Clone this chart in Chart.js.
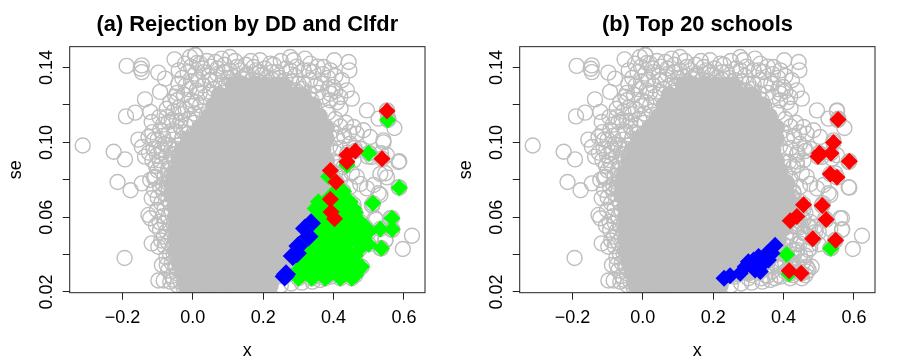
<!DOCTYPE html>
<html>
<head>
<meta charset="utf-8">
<style>
  body { margin: 0; background: #fff; width: 900px; height: 363px; overflow: hidden; }
  canvas { position: absolute; top: 0; }
</style>
<script src="https://cdn.jsdelivr.net/npm/chart.js@4/dist/chart.umd.min.js"></script>
</head>
<body>
<canvas id="left" width="450" height="363" style="left:0"></canvas>
<canvas id="right" width="450" height="363" style="left:450px"></canvas>
<script>
const xTicks = [-0.2, 0, 0.2, 0.4, 0.6];
const seTicks = [0.02, 0.04, 0.06, 0.08, 0.1, 0.12, 0.14];
const seLabels = [0.02, 0.06, 0.1, 0.14];

// open circles that can be told apart at the edge of the cloud, [x, se]
const rings = [
  [-0.313,0.0983],[-0.225,0.095],[-0.193,0.0909],[-0.214,0.0788],[-0.177,0.0744],[-0.194,0.0382],
  [-0.188,0.1409],[-0.145,0.1412],[-0.145,0.1376],[-0.148,0.1394],[-0.098,0.1373],[-0.079,0.1341],
  [-0.052,0.1444],[-0.022,0.1421],[0.007,0.1467],[-0.008,0.1457],[-0.041,0.1314],[-0.136,0.123],
  [-0.093,0.127],[-0.19,0.1139],[-0.164,0.1159],[-0.121,0.1163],[-0.117,0.1109],[-0.064,0.1216],
  [-0.074,0.118],[-0.045,0.1225],[-0.069,0.1109],[-0.093,0.1065],[-0.155,0.1015],[-0.145,0.0975],
  [-0.126,0.1029],[-0.112,0.0966],[-0.136,0.0924],[-0.102,0.0931],
  [-0.145,0.0781],[-0.121,0.0799],[-0.117,0.0701],[-0.121,0.0594],[-0.126,0.0612],[-0.102,0.0638],
  [-0.117,0.046],[-0.098,0.0442],[-0.083,0.0496],[-0.088,0.0344],[-0.098,0.0261],[-0.083,0.0261],
  [-0.064,0.0255],[-0.074,0.0344],[-0.079,0.0567],[-0.093,0.0532],[-0.064,0.0674],[-0.083,0.0728],
  [-0.069,0.0781],[-0.107,0.0817],[-0.093,0.0763],[-0.055,0.0407],[-0.045,0.03],[-0.045,0.0237],
  [-0.027,0.0229],
  [-0.06,0.112],[-0.03,0.115],[-0.05,0.106],[-0.02,0.109],[-0.08,0.099],[-0.06,0.096],[-0.03,0.102],
  [-0.09,0.088],[-0.07,0.086],[-0.1,0.085],[-0.11,0.081],[-0.08,0.082],
  [0.402,0.1439],[0.443,0.143],[0.445,0.1385],[0.391,0.1385],[0.372,0.1403],[0.424,0.1332],
  [0.452,0.1234],[0.495,0.1171],[0.552,0.1171],[0.528,0.1127],[0.573,0.1077],[0.556,0.1127],
  [0.504,0.1029],[0.485,0.1065],[0.457,0.1082],[0.419,0.1243],[0.391,0.1261],[0.438,0.1278],
  [0.4,0.1296],[0.466,0.1047],[0.447,0.0993],[0.476,0.0966],[0.585,0.0895],[0.552,0.0931],
  [0.542,0.1011],[0.509,0.0922],[0.457,0.0904],[0.428,0.0868],
  [0.585,0.076],[0.476,0.0778],[0.514,0.0772],[0.528,0.0728],[0.495,0.0754],[0.547,0.0835],
  [0.561,0.0594],[0.566,0.0532],[0.623,0.0501],[0.597,0.043],[0.533,0.0719],[0.485,0.0487],
  [0.476,0.0434],[0.457,0.0585],[0.476,0.0549],[0.438,0.0425],[0.471,0.0318],[0.452,0.03],
  [0.41,0.0318],[0.424,0.0362],[0.391,0.0282],[0.362,0.0264],[0.547,0.0478],[0.533,0.0434],
  [0.509,0.0665],[0.518,0.0594],[0.419,0.0585],[0.457,0.0514],[0.433,0.0656],[0.428,0.0728],
  [0.447,0.0763],[0.466,0.0817],[0.452,0.0835],
  [0.007,0.1466],[0.021,0.1421],[0.082,0.1448],[0.106,0.1457],[0.064,0.143],[0.125,0.1403],
  [0.191,0.1439],[0.173,0.1403],[0.22,0.1421],[0.277,0.1457],[0.286,0.1439],[0.319,0.1448],
  [0.334,0.1421],[0.277,0.1385],[0.315,0.1385],[0.343,0.1376],[0.239,0.1376],[0.007,0.1368],
  [0.03,0.1376],[0.049,0.1332],[0.087,0.1376],[0.116,0.135],[0.154,0.1368],[0.196,0.1359],
  [0.263,0.1332],[0.3,0.1314],[0.334,0.1332],[0.011,0.1278],[0.049,0.127],[-0.003,0.1225],
  [0.021,0.1198],[0.315,0.1243],[0.286,0.1278],[0.338,0.1225],[0.267,0.1225]
];

// rings packed between the solid part and the loose edge, left side
const ringsLeft = [
  [-0.115,0.0905],[-0.105,0.0875],[-0.095,0.0905],[-0.088,0.0945],[-0.075,0.0925],[-0.065,0.0895],[-0.058,0.0935],
  [-0.045,0.0965],[-0.05,0.0905],[-0.04,0.0925],[-0.085,0.0775],[-0.075,0.0755],[-0.065,0.079],[-0.055,0.0835],
  [-0.045,0.0875],[-0.06,0.0735],[-0.05,0.0765],[-0.11,0.0745],[-0.1,0.0705],[-0.09,0.0675],[-0.08,0.0645],
  [-0.07,0.0695],[-0.06,0.0635],[-0.07,0.0605],[-0.085,0.0605],[-0.095,0.0575],[-0.105,0.0555],[-0.065,0.0555],
  [-0.075,0.0525],[-0.06,0.0495],[-0.07,0.0465],[-0.08,0.0445],[-0.09,0.0475],[-0.065,0.0405],[-0.075,0.0385],
  [-0.06,0.0355],[-0.07,0.0315],[-0.06,0.0285],[-0.05,0.0335],[-0.055,0.0265],[-0.035,0.0255],[-0.02,0.0245],
  [0,0.0235],[0.03,0.024],[0.06,0.0235],
  [-0.095,0.1135],[-0.085,0.1095],[-0.075,0.1135],[-0.1,0.1015],[-0.085,0.1035],[-0.07,0.0985],[-0.115,0.1055],
  [-0.125,0.0945],[-0.11,0.1015],[-0.09,0.0965],[-0.05,0.1245],[-0.035,0.1115],[-0.015,0.1045],[0.005,0.1155]
];

// same, along the top of the cloud
const ringsTop = [
  [-0.04,0.1385],[-0.03,0.1345],[-0.015,0.1375],[-0.005,0.1405],[0.012,0.1425],[0.028,0.1395],[0.04,0.1435],
  [0.052,0.1405],[0.07,0.1395],[0.09,0.1415],[0.105,0.1385],[0.12,0.1435],[0.135,0.1385],[0.15,0.1415],
  [0.165,0.1435],[0.18,0.1385],[0.205,0.1395],[0.23,0.1415],[0.25,0.1435],[0.265,0.1395],[0.295,0.1405],
  [0.33,0.1385],[0.355,0.1405],[0.37,0.1365],[0.385,0.1345],[0.405,0.1355],
  [-0.02,0.1305],[-0.005,0.1325],[0.015,0.1335],[0.03,0.1305],[0.045,0.1355],[0.065,0.1335],[0.08,0.1305],
  [0.1,0.1345],[0.125,0.1325],[0.14,0.1345],[0.17,0.1335],[0.185,0.1325],[0.21,0.1345],[0.225,0.1335],
  [0.245,0.1345],[0.28,0.1325],[0.315,0.1315],[0.35,0.1305],[0.365,0.1315],[0.385,0.1285],[0.405,0.1275],
  [-0.045,0.1265],[-0.025,0.1255],[-0.01,0.1285],[0.02,0.1265],[0.035,0.1245],[0.06,0.1285],[0.075,0.1255],
  [0.295,0.1275],[0.31,0.1285],[0.33,0.1265],[0.355,0.1265],[0.37,0.1245],[0.39,0.1225],[0.41,0.1215],[0.42,0.118],
  [-0.055,0.1165],[-0.04,0.1185],[-0.02,0.1175],[-0.005,0.1195],[0.01,0.1215],[0.025,0.1165],[0.04,0.115],
  [-0.045,0.1115],[-0.035,0.1085],[-0.01,0.1125],[0.005,0.1105],[0.02,0.1075],[-0.07,0.1045],[-0.055,0.1015],
  [-0.04,0.0985],[-0.025,0.1055],[-0.01,0.0995],[0,0.1035],
  [0.095,0.1305],[0.115,0.1285],[0.135,0.1315],[0.155,0.1295],[0.175,0.1315],[0.195,0.1295],[0.22,0.1305],
  [0.24,0.1285],[0.26,0.1305],[0.275,0.1275],[0.09,0.1265],[0.11,0.1325],[0.15,0.1355],[0.19,0.1375],
  [0.225,0.1375],[0.29,0.1355],[0.07,0.1365],[0.3,0.1245],[0.32,0.1205],[0.345,0.1195]
];

// same, right flank
const ringsRight = [
  [0.385,0.116],[0.405,0.1125],[0.42,0.1085],[0.435,0.1105],[0.395,0.106],[0.41,0.1025],[0.43,0.1035],[0.445,0.1055],
  [0.39,0.098],[0.405,0.0945],[0.42,0.097],[0.44,0.0945],[0.46,0.097],[0.4,0.0895],[0.415,0.0895],[0.405,0.0835],
  [0.42,0.0805],[0.415,0.0755],[0.43,0.07],[0.42,0.0655],[0.44,0.0605],[0.43,0.055],[0.42,0.0495],[0.445,0.046],
  [0.415,0.044],[0.395,0.0405],[0.43,0.04],[0.405,0.0355],[0.44,0.034],[0.38,0.034],[0.355,0.0285],[0.34,0.0255],
  [0.31,0.025],[0.28,0.0245],[0.25,0.0235],[0.445,0.0545]
];

// the solid part of the cloud, too dense to read single circles: one row of x per se
const coreSe = [0.1307, 0.1253, 0.12, 0.114, 0.108, 0.102, 0.096, 0.09, 0.084, 0.078, 0.072, 0.066, 0.06, 0.054, 0.048, 0.042, 0.036, 0.03, 0.0235];
const coreX = [
  [0.115,0.145,0.175,0.205,0.235,0.255],
  [0.075,0.105,0.135,0.165,0.195,0.225,0.255,0.285,0.31],
  [0.06,0.09,0.12,0.15,0.18,0.21,0.24,0.27,0.3,0.34],
  [0.045,0.075,0.105,0.135,0.165,0.195,0.225,0.255,0.285,0.315,0.345,0.36],
  [0.02,0.05,0.08,0.11,0.14,0.17,0.2,0.23,0.26,0.29,0.32,0.35,0.38],
  [-0.01,0.02,0.05,0.08,0.11,0.14,0.17,0.2,0.23,0.26,0.29,0.32,0.35,0.38],
  [-0.03,0,0.03,0.06,0.09,0.12,0.15,0.18,0.21,0.24,0.27,0.3,0.33,0.37],
  [-0.04,-0.01,0.02,0.05,0.08,0.11,0.14,0.17,0.2,0.23,0.26,0.29,0.32,0.35,0.38],
  [-0.05,-0.02,0.01,0.04,0.07,0.1,0.13,0.16,0.19,0.22,0.25,0.28,0.31,0.34,0.37,0.39],
  [-0.06,-0.03,0,0.03,0.06,0.09,0.12,0.15,0.18,0.21,0.24,0.27,0.3,0.33,0.36,0.39,0.41],
  [-0.06,-0.03,0,0.03,0.06,0.09,0.12,0.15,0.18,0.21,0.24,0.27,0.3,0.33,0.36,0.39,0.41],
  [-0.05,-0.02,0.01,0.04,0.07,0.1,0.13,0.16,0.19,0.22,0.25,0.28,0.31,0.34,0.37,0.4,0.415],
  [-0.05,-0.02,0.01,0.04,0.07,0.1,0.13,0.16,0.19,0.22,0.25,0.28,0.31,0.34,0.37,0.4,0.415],
  [-0.05,-0.02,0.01,0.04,0.07,0.1,0.13,0.16,0.19,0.22,0.25,0.28,0.31,0.34,0.37,0.4],
  [-0.05,-0.02,0.01,0.04,0.07,0.1,0.13,0.16,0.19,0.22,0.25,0.28,0.31,0.34,0.37,0.385],
  [-0.05,-0.02,0.01,0.04,0.07,0.1,0.13,0.16,0.19,0.22,0.25,0.28,0.31,0.34,0.37],
  [-0.04,-0.01,0.02,0.05,0.08,0.11,0.14,0.17,0.2,0.23,0.26,0.29,0.32,0.35],
  [-0.03,0,0.03,0.06,0.09,0.12,0.15,0.18,0.21,0.24,0.27,0.3],
  [-0.02,0.01,0.04,0.07,0.1,0.13,0.16,0.19,0.22]
];

// panel (a)
const redA = [[0.552,0.1168],[0.438,0.0933],[0.462,0.0954],[0.438,0.0897],[0.538,0.0913],[0.391,0.0849],[0.407,0.0788],[0.391,0.0696],[0.393,0.0628],[0.403,0.0592]];
const blueA = [[0.261,0.0282],[0.336,0.0567],[0.319,0.054],[0.329,0.0496],[0.3,0.0446],[0.284,0.0392],[0.296,0.0407],[0.265,0.0295]];
const greenA = [
  [0.554,0.112],[0.5,0.0942],[0.438,0.0879],[0.587,0.0758],[0.512,0.0674],[0.566,0.0594],[0.533,0.0537],[0.567,0.0535],[0.536,0.0434],
  [0.386,0.0817],[0.405,0.0737],[0.428,0.0737],
  [0.391,0.071],[0.424,0.071],
  [0.357,0.0683],[0.386,0.0683],[0.419,0.0683],[0.447,0.0683],
  [0.372,0.0665],[0.4,0.0665],[0.433,0.0665],
  [0.348,0.0647],[0.376,0.0647],[0.409,0.0647],[0.457,0.0647],
  [0.362,0.0625],[0.395,0.0625],[0.433,0.0625],[0.462,0.0625],
  [0.353,0.0603],[0.386,0.0603],[0.419,0.0603],[0.452,0.0603],
  [0.343,0.0575],[0.376,0.0575],[0.409,0.0575],[0.447,0.0575],[0.476,0.0575],
  [0.362,0.0549],[0.4,0.0549],[0.438,0.0549],[0.471,0.0549],[0.49,0.0549],
  [0.348,0.052],[0.381,0.052],[0.419,0.052],[0.457,0.052],[0.49,0.052],[0.5,0.052],
  [0.334,0.0487],[0.372,0.0487],[0.409,0.0487],[0.447,0.0487],[0.485,0.0487],
  [0.324,0.0455],[0.362,0.0455],[0.4,0.0455],[0.438,0.0455],[0.476,0.0455],[0.5,0.0455],
  [0.315,0.0425],[0.353,0.0425],[0.391,0.0425],[0.428,0.0425],[0.471,0.0425],
  [0.315,0.0395],[0.343,0.0395],[0.372,0.0395],[0.409,0.0395],[0.447,0.0395],[0.462,0.0395],
  [0.305,0.0362],[0.343,0.0362],[0.381,0.0362],[0.419,0.0362],[0.457,0.0362],
  [0.315,0.0335],[0.353,0.0335],[0.391,0.0335],[0.428,0.0335],[0.466,0.0335],[0.48,0.0335],
  [0.296,0.0309],[0.329,0.0309],[0.367,0.0309],[0.405,0.0309],[0.443,0.0309],[0.466,0.0309],
  [0.31,0.029],[0.348,0.029],[0.386,0.029],[0.428,0.029],[0.462,0.029],
  [0.3,0.0273],[0.338,0.0273],[0.376,0.0273],[0.419,0.0273],[0.452,0.0273]
];

// panel (b)
const redB = [[0.555,0.1122],[0.542,0.1],[0.502,0.0942],[0.498,0.0924],[0.535,0.0942],[0.587,0.0899],[0.533,0.0831],[0.552,0.0813],[0.457,0.0667],[0.51,0.0662],[0.438,0.0603],[0.419,0.0581],[0.521,0.0587],[0.483,0.0485],[0.548,0.0476],[0.416,0.0314],[0.45,0.03]];
const blueB = [[0.376,0.045],[0.353,0.0407],[0.343,0.0353],[0.334,0.0309],[0.315,0.0371],[0.3,0.0362],[0.277,0.03],[0.248,0.0286],[0.231,0.0273],[0.367,0.0407],[0.319,0.0318],[0.357,0.0371],[0.291,0.0335],[0.329,0.0389]];
const greenB = [[0.409,0.04],[0.534,0.0434],[0.416,0.0296]];

const GRAY = "#BEBEBE";
const INK = "#222";
const FONT = "'Liberation Sans', Arial, sans-serif";

function pts(list) { return list.map((p) => ({ x: p[0], y: p[1] })); }

const corePts = [];
coreSe.forEach((se, i) => coreX[i].forEach((x) => corePts.push({ x, y: se })));

// every coloured school also has its grey circle underneath
const ringPts = pts(rings.concat(ringsLeft, ringsTop, ringsRight, redA, blueA, greenA, redB, blueB, greenB));

function diamonds(data, color, radius) {
  return { data: pts(data), pointStyle: "rectRot", pointRadius: radius, pointBorderWidth: 0, backgroundColor: color, borderColor: color };
}

// box round the plot and the upright y labels, which Chart.js cannot centre on a tick
const frame = {
  id: "frame",
  afterDraw(chart) {
    const { ctx, chartArea: a, scales } = chart;
    ctx.save();
    ctx.strokeStyle = INK;
    ctx.lineWidth = 1;
    ctx.strokeRect(a.left, a.top, a.right - a.left, a.bottom - a.top);
    ctx.fillStyle = "#000";
    ctx.font = "18px " + FONT;
    ctx.textAlign = "center";
    ctx.textBaseline = "middle";
    for (const v of seLabels) {
      ctx.save();
      ctx.translate(47.5, scales.y.getPixelForValue(v));
      ctx.rotate(-Math.PI / 2);
      ctx.fillText(v.toFixed(2), 0, 0);
      ctx.restore();
    }
    ctx.restore();
  },
};

function panel(id, title, marks) {
  return new Chart(document.getElementById(id), {
    type: "scatter",
    data: {
      datasets: marks.concat([
        { data: ringPts, pointStyle: "circle", pointRadius: 7.5, pointBorderWidth: 1.4, borderColor: GRAY, backgroundColor: "rgba(0,0,0,0)" },
        { data: corePts, pointStyle: "circle", pointRadius: 8.5, pointBorderWidth: 0, borderColor: GRAY, backgroundColor: GRAY },
      ]),
    },
    plugins: [frame],
    options: {
      responsive: false,
      animation: false,
      layout: { padding: { right: 25 } },
      plugins: {
        legend: { display: false },
        tooltip: { enabled: false },
        title: {
          display: true,
          fullSize: false,
          text: title,
          color: "#000",
          font: { family: FONT, size: 21.8, weight: "bold", lineHeight: 1.2 },
          padding: { top: 12, bottom: 8.5 },
        },
      },
      scales: {
        x: {
          type: "linear",
          min: -0.35,
          max: 0.66,
          afterBuildTicks: (s) => { s.ticks = xTicks.map((v) => ({ value: v })); },
          afterFit: (s) => { s.height = 70.3; },
          border: { display: false },
          grid: { drawOnChartArea: false, drawTicks: true, tickLength: 7, tickColor: INK, lineWidth: 1 },
          ticks: {
            color: "#000",
            font: { family: FONT, size: 18 },
            padding: 8,
            autoSkip: false,
            maxRotation: 0,
            callback: (v) => v.toFixed(1).replace("-", "\u2212"),
          },
          title: { display: true, text: "x", color: "#000", font: { family: FONT, size: 18 }, padding: { top: 0, bottom: 1 } },
        },
        y: {
          type: "linear",
          min: 0.0196,
          max: 0.1512,
          afterBuildTicks: (s) => { s.ticks = seTicks.map((v) => ({ value: v })); },
          afterFit: (s) => { s.width = 69.7; },
          border: { display: false },
          grid: { drawOnChartArea: false, drawTicks: true, tickLength: 7, tickColor: INK, lineWidth: 1 },
          ticks: { display: false },
          title: { display: true, text: "se", color: "#000", font: { family: FONT, size: 18 }, padding: { top: 5, bottom: 0 } },
        },
      },
    },
  });
}

panel("left", "(a) Rejection by DD and Clfdr", [
  diamonds(redA, "#FF0000", 8.5),
  diamonds(blueA, "#0000FF", 10),
  diamonds(greenA, "#00FF00", 8.5),
]);
panel("right", "(b) Top 20 schools", [
  diamonds(redB, "#FF0000", 8.5),
  diamonds(blueB, "#0000FF", 8.5),
  diamonds(greenB, "#00FF00", 8.5),
]);
</script>
</body>
</html>
